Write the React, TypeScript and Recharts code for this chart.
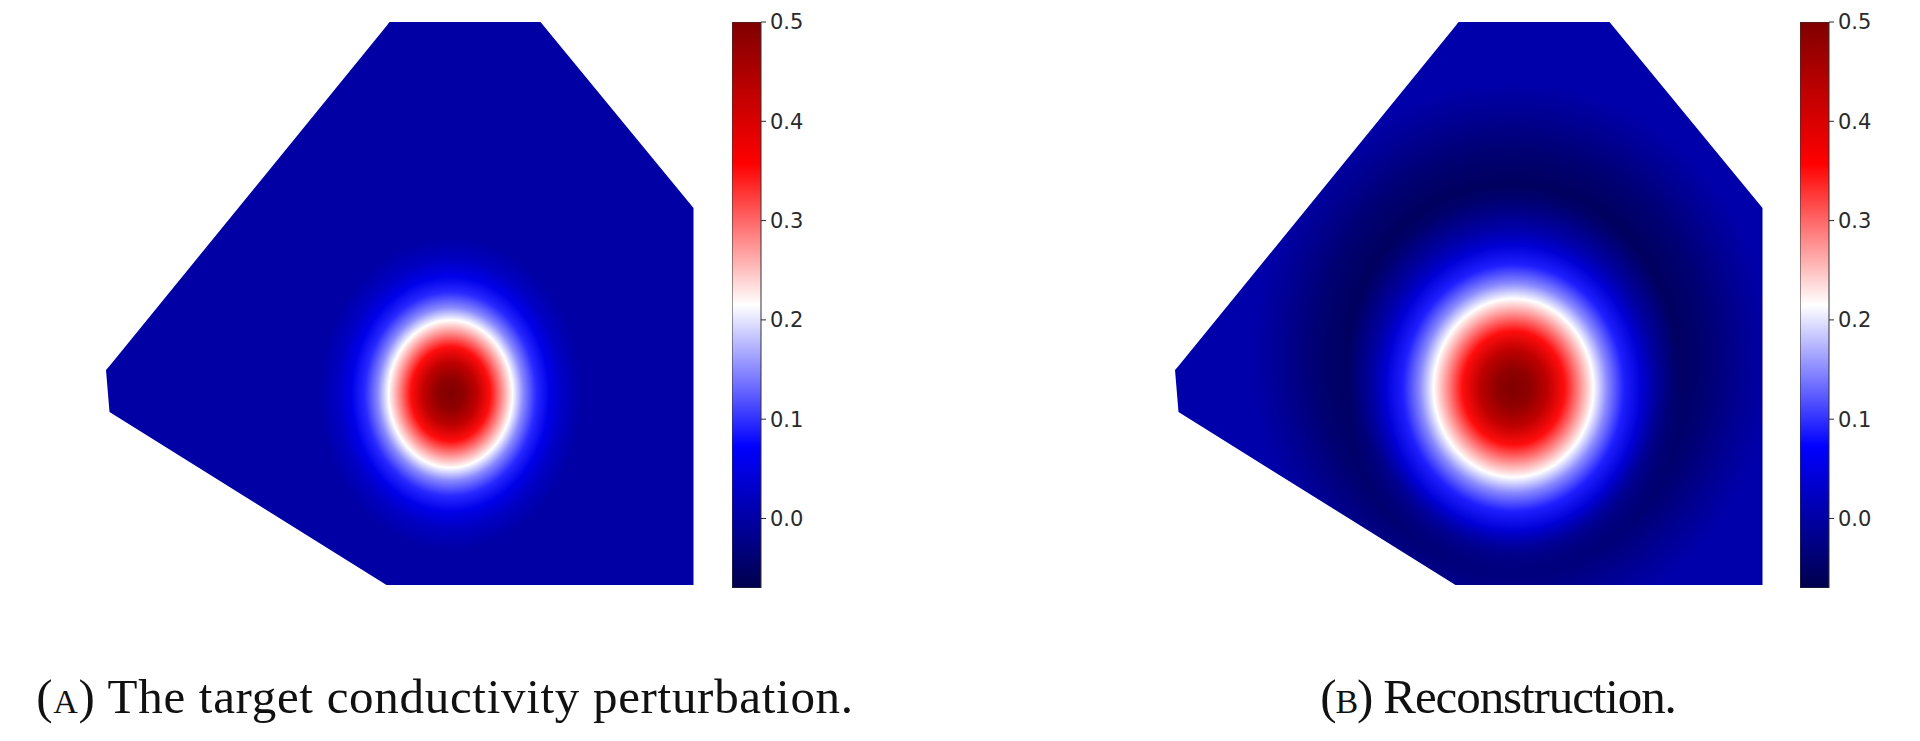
import React from "react";
import {
  ComposedChart,
  Area,
  Scatter,
  XAxis,
  YAxis,
  BarChart,
  Bar,
} from "recharts";

// colour scale (matplotlib "seismic")
const VMIN = -0.07;
const VMAX = 0.5;
const cbTicks = [0, 0.1, 0.2, 0.3, 0.4, 0.5];

// mesh outline, shared by both panels: x, lower edge, upper edge
const meshX = [0, 3.5, 280.5, 283.5, 434.5, 587.5];
const meshLow = [215, 173, 0, 0, 0, 0];
const meshHigh = [215, 219, 559, 563, 563, 377];

// radial profile of the inclusion (fraction of outer radius -> value)
const ringFrac = [0, 0.1, 0.2, 0.3, 0.4, 0.47, 0.55, 0.65, 0.75, 0.85, 1.0];
const ringA = [0.5, 0.48, 0.43, 0.35, 0.27, 0.215, 0.15, 0.095, 0.055, 0.025, 0.0];
const ringB = [0.5, 0.48, 0.43, 0.35, 0.27, 0.215, 0.15, 0.09, 0.04, 0.01, -0.01];

const blobCenterA = [344.5, 191];
const blobRadiusA = [132, 157];
const blobCenterB = [338.5, 197];
const blobRadiusB = [170, 190];

// negative ring around the reconstruction
const haloCenterB = [336.5, 228];
const haloRadiusB = [260, 275];
const haloFrac = [0, 0.42, 0.52, 0.63, 0.75, 0.88, 1.0];
const haloVal = [0.0, 0.0, -0.03, -0.055, -0.04, -0.015, 0.005];

const MESH_W = 588;
const MESH_H = 563;
const K = 1; // px per mesh unit

function seismic(v: number) {
  let t = (v - VMIN) / (VMAX - VMIN);
  t = Math.max(0, Math.min(1, t));
  let r = 0, g = 0, b = 0;
  if (t < 0.25) {
    b = 0.3 + 0.7 * (t / 0.25);
  } else if (t < 0.5) {
    const s = (t - 0.25) / 0.25;
    r = s; g = s; b = 1;
  } else if (t < 0.75) {
    const s = (t - 0.5) / 0.25;
    r = 1; g = 1 - s; b = 1 - s;
  } else {
    const s = (t - 0.75) / 0.25;
    r = 1 - 0.5 * s;
  }
  const c = (x: number) => Math.round(x * 255);
  return `rgb(${c(r)},${c(g)},${c(b)})`;
}

const meshData = meshX.map((x, i) => ({ x, band: [meshLow[i], meshHigh[i]] }));

function Defs() {
  const hx = haloCenterB[0] * K;
  const hy = (MESH_H - haloCenterB[1]) * K;
  return (
    <svg width={0} height={0} style={{ position: "absolute" }}>
      <defs>
        <linearGradient id="cbGrad" x1="0" y1="1" x2="0" y2="0">
          {[0, 0.25, 0.5, 0.75, 1].map((o) => (
            <stop key={o} offset={o} stopColor={seismic(VMIN + o * (VMAX - VMIN))} />
          ))}
        </linearGradient>
        <radialGradient id="blobA" cx="0.5" cy="0.5" r="0.5">
          {ringFrac.map((f, i) => (
            <stop key={f} offset={f} stopColor={seismic(ringA[i])} />
          ))}
        </radialGradient>
        <radialGradient id="blobB" cx="0.5" cy="0.5" r="0.5">
          {ringFrac.map((f, i) => (
            <stop
              key={f}
              offset={f}
              stopColor={seismic(ringB[i])}
              stopOpacity={f <= 0.75 ? 1 : f < 1 ? 0.6 : 0}
            />
          ))}
        </radialGradient>
        <radialGradient
          id="haloB"
          gradientUnits="userSpaceOnUse"
          cx={hx}
          cy={hy}
          r={haloRadiusB[0] * K}
          gradientTransform={`translate(${hx} ${hy}) scale(1 ${haloRadiusB[1] / haloRadiusB[0]}) translate(${-hx} ${-hy})`}
        >
          {haloFrac.map((f, i) => (
            <stop key={f} offset={f} stopColor={seismic(haloVal[i])} />
          ))}
        </radialGradient>
      </defs>
    </svg>
  );
}

function Panel({
  left,
  fill,
  blobId,
  center,
  radius,
}: {
  left: number;
  fill: string;
  blobId: string;
  center: number[];
  radius: number[];
}) {
  const blob = [{ x: center[0], y: center[1] }];
  return (
    <div style={{ position: "absolute", left, top: 22 }}>
      <ComposedChart
        width={MESH_W * K}
        height={MESH_H * K}
        data={meshData}
        margin={{ top: 0, right: 0, bottom: 0, left: 0 }}
      >
        <XAxis type="number" dataKey="x" domain={[0, MESH_W]} hide allowDataOverflow />
        <YAxis type="number" dataKey="y" domain={[0, MESH_H]} hide allowDataOverflow />
        <Area
          type="linear"
          dataKey="band"
          stroke="none"
          fill={fill}
          fillOpacity={1}
          isAnimationActive={false}
        />
        <Scatter
          data={blob}
          isAnimationActive={false}
          shape={(p: any) => (
            <ellipse
              cx={p.cx}
              cy={p.cy}
              rx={radius[0] * K}
              ry={radius[1] * K}
              fill={`url(#${blobId})`}
            />
          )}
        />
      </ComposedChart>
    </div>
  );
}

function ColorBar({ left }: { left: number }) {
  return (
    <div style={{ position: "absolute", left, top: 7 }}>
      <BarChart
        width={89}
        height={596}
        data={[{ name: "cb", range: [VMIN, VMAX] }]}
        margin={{ top: 15, right: 0, bottom: 15, left: 0 }}
        barCategoryGap={0}
      >
        <XAxis dataKey="name" hide />
        <YAxis
          orientation="right"
          width={60}
          domain={[VMIN, VMAX]}
          ticks={cbTicks}
          allowDataOverflow
          tickFormatter={(v: number) => v.toFixed(1)}
          tick={{ fill: "#2a2a2a", fontSize: 21, fontFamily: "DejaVu Sans" }}
          tickLine={{ stroke: "#2a2a2a" }}
          tickSize={5}
          tickMargin={4}
          axisLine={false}
        />
        <Bar
          dataKey="range"
          fill="url(#cbGrad)"
          stroke="#333"
          strokeWidth={1}
          isAnimationActive={false}
        />
      </BarChart>
    </div>
  );
}

const captionStyle: React.CSSProperties = {
  position: "absolute",
  top: 672,
  width: 1000,
  textAlign: "center",
  fontFamily: "'Liberation Serif', serif",
  fontSize: 49,
  lineHeight: "49px",
  color: "#111",
  whiteSpace: "nowrap",
};

export default function App() {
  return (
    <div
      style={{
        position: "absolute",
        left: 0,
        top: 0,
        width: 1920,
        height: 741,
        background: "#fff",
        overflow: "hidden",
      }}
    >
      <Defs />
      <Panel
        left={106}
        fill={seismic(0)}
        blobId="blobA"
        center={blobCenterA}
        radius={blobRadiusA}
      />
      <ColorBar left={732} />
      <Panel
        left={1175}
        fill="url(#haloB)"
        blobId="blobB"
        center={blobCenterB}
        radius={blobRadiusB}
      />
      <ColorBar left={1800} />
      <div style={{ ...captionStyle, left: 445 - 500, letterSpacing: 0.7 }}>
        (<span style={{ fontVariant: "small-caps" }}>a</span>) The target conductivity perturbation.
      </div>
      <div style={{ ...captionStyle, left: 1498 - 500, letterSpacing: -1.1 }}>
        (<span style={{ fontVariant: "small-caps" }}>b</span>) Reconstruction.
      </div>
    </div>
  );
}
